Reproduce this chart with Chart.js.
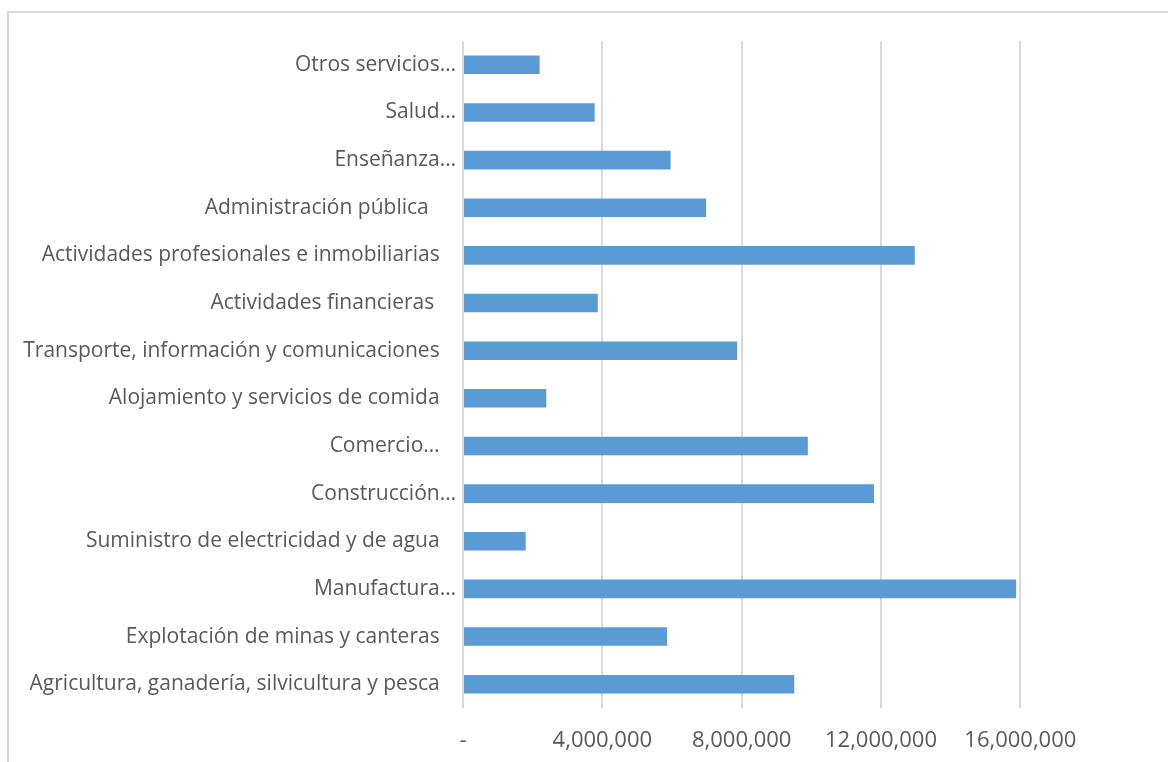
<!DOCTYPE html>
<html>
<head>
<meta charset="UTF-8">
<title>PIB por actividad económica</title>
<script src="https://cdn.jsdelivr.net/npm/chart.js@4"></script>
<style>
    html, body {
        margin: 0;
        padding: 0;
        background: #fff;
        overflow: hidden;
    }
    .wrap {
        position: relative;
        width: 1168px;
        height: 762px;
    }
    .frame {
        position: absolute;
        left: 7px;
        top: 11px;
        width: 1300px;
        height: 900px;
        border: 2px solid #d9d9d9;
    }
    #chart {
        position: absolute;
        left: 0;
        top: 0;
    }
</style>
</head>
<body>
<div class="wrap">
    <div class="frame"></div>
    <canvas id="chart" width="1168" height="762"></canvas>
</div>
<script>
    // sectores, de arriba hacia abajo
    const sectores = [
        'Otros servicios…',
        'Salud…',
        'Enseñanza…',
        'Administración pública     ',
        'Actividades profesionales e inmobiliarias   ',
        'Actividades financieras    ',
        'Transporte, información y comunicaciones   ',
        'Alojamiento y servicios de comida   ',
        'Comercio…   ',
        'Construcción…',
        'Suministro de electricidad y de agua   ',
        'Manufactura…',
        'Explotación de minas y canteras   ',
        'Agricultura, ganadería, silvicultura y pesca   '
    ];
    const valores = [
        2200000, 3780000, 5960000, 6980000, 12970000, 3870000, 7870000,
        2390000, 9900000, 11800000, 1800000, 15880000, 5860000, 9510000
    ];
    const marcas = [0, 4000000, 8000000, 12000000, 16000000];
    const ejeMax = 18000000;

    const gris = '#595959';
    const familia = '"Open Sans", sans-serif';

    new Chart(document.getElementById('chart'), {
        type: 'bar',
        data: {
            labels: sectores,
            datasets: [{
                data: valores,
                backgroundColor: '#5B9BD5',
                barPercentage: 0.39,
                categoryPercentage: 1
            }]
        },
        options: {
            indexAxis: 'y',
            responsive: false,
            animation: false,
            layout: { padding: { top: 41, right: 78, left: 0, bottom: 0 } },
            plugins: {
                legend: { display: false },
                tooltip: { enabled: false }
            },
            scales: {
                x: {
                    min: 0,
                    max: ejeMax,
                    afterBuildTicks: (scale) => {
                        scale.ticks = marcas.map(v => ({ value: v }));
                    },
                    afterFit: (scale) => { scale.height = 54; },
                    border: { display: false },
                    grid: { color: '#d9d9d9', lineWidth: 2, drawTicks: false },
                    ticks: {
                        color: gris,
                        font: { family: familia, size: 22 },
                        padding: 20,
                        maxRotation: 0,
                        callback: (v) => v === 0 ? '-' : v.toLocaleString('en-US')
                    }
                },
                y: {
                    afterFit: (scale) => { scale.width = 463; },
                    border: { display: false },
                    grid: { display: false, drawTicks: false },
                    ticks: {
                        color: gris,
                        font: { family: familia, size: 21 },
                        padding: 7,
                        autoSkip: false
                    }
                }
            }
        }
    });
</script>
</body>
</html>
